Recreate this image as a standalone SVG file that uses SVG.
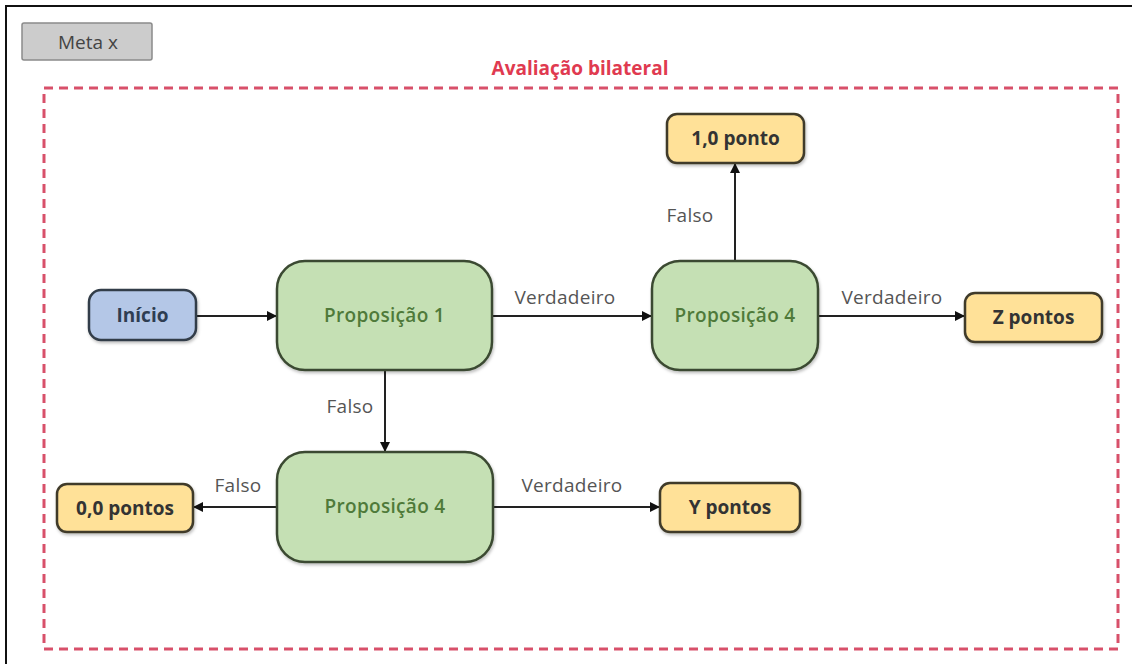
<svg xmlns="http://www.w3.org/2000/svg" width="1132" height="664" viewBox="0 0 1132 664">
<defs>
<marker id="arr" viewBox="0 0 10 10" refX="9" refY="5" markerWidth="10" markerHeight="10" markerUnits="userSpaceOnUse" orient="auto">
<path d="M0,0 L10,5 L0,10 z" fill="#111"/>
</marker>
<filter id="sh" x="-10%" y="-10%" width="130%" height="140%">
<feDropShadow dx="1" dy="2" stdDeviation="1.5" flood-color="#000" flood-opacity="0.25"/>
</filter>
</defs>
<style>
.lbl{font-family:"Open Sans","Liberation Sans",sans-serif;font-size:19px;fill:#555;letter-spacing:0.3px;}
.prop rect{fill:#c5e0b4;stroke:#3a4a30;stroke-width:2.5;}
.prop text{font-family:"Open Sans","Liberation Sans",sans-serif;font-size:19px;font-weight:600;fill:#4f7a3a;text-anchor:middle;letter-spacing:0.3px;}
.res rect{fill:#ffe198;stroke:#3f3a2a;stroke-width:2.5;}
.res text{font-family:"Open Sans","Liberation Sans",sans-serif;font-size:19px;font-weight:700;fill:#333;text-anchor:middle;}
.conn line{stroke:#222;stroke-width:2;marker-end:url(#arr);}
</style>
<rect x="0" y="0" width="1132" height="664" fill="#fff"/>
<path d="M6,664 L6,6 L1132,6" fill="none" stroke="#111" stroke-width="2"/>
<g id="meta">
<rect x="22" y="23" width="130" height="37" fill="#cccccc" stroke="#8a8a8a" stroke-width="1.5" rx="2"/>
<text x="88" y="49" font-family="'Open Sans','Liberation Sans',sans-serif" font-size="19" fill="#444" text-anchor="middle">Meta x</text>
</g>
<g id="group-box">
<rect x="44" y="88" width="1074" height="561" fill="none" stroke="#d8506a" stroke-width="3" stroke-dasharray="9,6"/>
<text x="580" y="75" font-family="'Open Sans','Liberation Sans',sans-serif" font-size="19" font-weight="700" fill="#e03a50" text-anchor="middle">Avaliação bilateral</text>
</g>
<g id="connectors" class="conn">
<line x1="196" y1="316" x2="276" y2="316"/>
<line x1="492" y1="316" x2="651" y2="316"/>
<line x1="818" y1="316" x2="964" y2="316"/>
<line x1="735" y1="261" x2="735" y2="164"/>
<line x1="385" y1="370" x2="385" y2="451"/>
<line x1="277" y1="507" x2="194" y2="507"/>
<line x1="493" y1="507" x2="659" y2="507"/>
</g>
<g id="labels">
<text class="lbl" x="565" y="304" text-anchor="middle">Verdadeiro</text>
<text class="lbl" x="892" y="304" text-anchor="middle">Verdadeiro</text>
<text class="lbl" x="690" y="222" text-anchor="middle">Falso</text>
<text class="lbl" x="350" y="413" text-anchor="middle">Falso</text>
<text class="lbl" x="238" y="492" text-anchor="middle">Falso</text>
<text class="lbl" x="572" y="492" text-anchor="middle">Verdadeiro</text>
</g>
<g id="inicio">
<rect x="89" y="290" width="107" height="50" rx="12" fill="#b4c7e7" stroke="#333d48" stroke-width="2.5" filter="url(#sh)"/>
<text x="142.5" y="322" font-family="'Open Sans','Liberation Sans',sans-serif" font-size="19" font-weight="700" fill="#2e3d52" text-anchor="middle">Início</text>
</g>
<g id="prop1" class="prop">
<rect x="277" y="261" width="215" height="109" rx="28" filter="url(#sh)"/>
<text x="384.5" y="322">Proposição 1</text>
</g>
<g id="prop4-top" class="prop">
<rect x="652" y="261" width="166" height="109" rx="28" filter="url(#sh)"/>
<text x="735" y="322">Proposição 4</text>
</g>
<g id="prop4-bottom" class="prop">
<rect x="277" y="452" width="216" height="110" rx="28" filter="url(#sh)"/>
<text x="385" y="513">Proposição 4</text>
</g>
<g id="um-ponto" class="res">
<rect x="667" y="114" width="137" height="49" rx="10" filter="url(#sh)"/>
<text x="735.5" y="145">1,0 ponto</text>
</g>
<g id="z-pontos" class="res">
<rect x="965" y="293" width="137" height="49" rx="10" filter="url(#sh)"/>
<text x="1033.5" y="324">Z pontos</text>
</g>
<g id="zero-pontos" class="res">
<rect x="57" y="484" width="136" height="48" rx="10" filter="url(#sh)"/>
<text x="125" y="515">0,0 pontos</text>
</g>
<g id="y-pontos" class="res">
<rect x="660" y="483" width="140" height="49" rx="10" filter="url(#sh)"/>
<text x="730" y="514">Y pontos</text>
</g>
</svg>
